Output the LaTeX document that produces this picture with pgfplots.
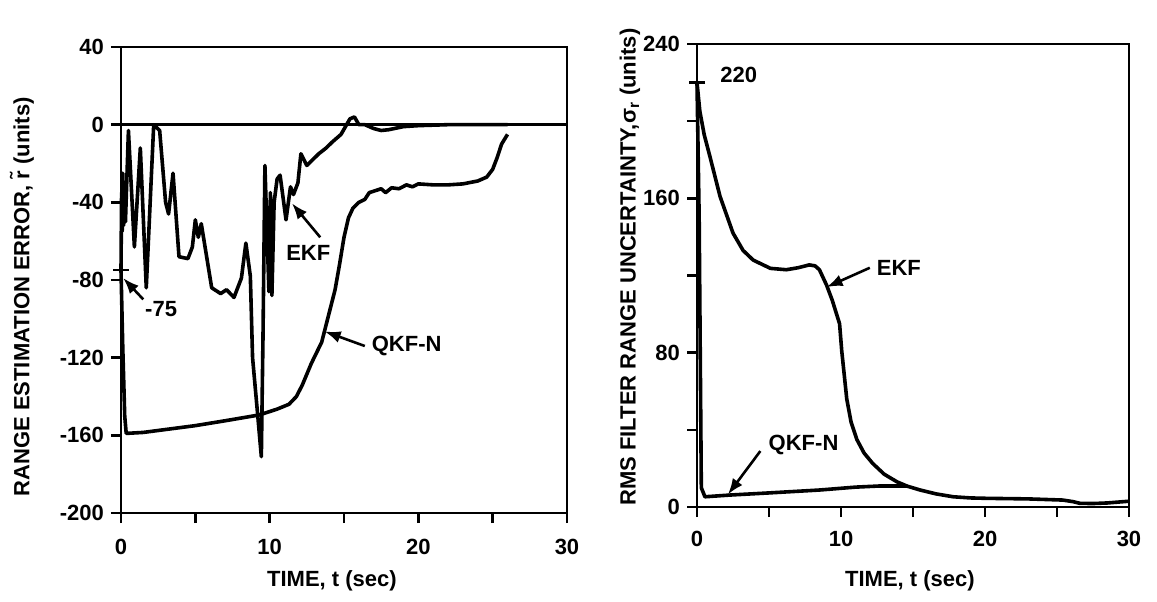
\documentclass[border=0pt]{standalone}
\usepackage{fontspec}
\setmainfont{Liberation Sans}
\usepackage{pgfplots}
\pgfplotsset{compat=1.18}
\usetikzlibrary{arrows.meta}

\pgfplotsset{
  filterpanel/.style={
    scale only axis,
    clip=false,
    axis line style={line width=1.2pt},
    every tick/.style={line width=1.2pt, black},
    tick align=outside,
    tick pos=left,
    major tick length=5pt,
    xmin=0, xmax=30,
    xtick={0,5,...,30},
    xticklabels={0,,10,,20,,30},
    /pgf/number format/assume math mode=true,
    tick label style={font=\fontsize{11}{13}\selectfont\bfseries},
    label style={font=\fontsize{11}{13}\selectfont\bfseries},
    xlabel={TIME, t (sec)},
  },
}
\tikzset{
  curve/.style={black, line width=1.8pt, line join=round},
  callout/.style={black, line width=1.3pt, -{Latex[length=8pt,width=6pt]}},
  note/.style={font=\fontsize{11}{13}\selectfont\bfseries},
}

\begin{document}
\begin{tikzpicture}
\useasboundingbox (0,0) rectangle (578.5pt,300.5pt);

% ---------------- range estimation error ----------------
\begin{axis}[filterpanel,
  at={(60.5pt,44pt)}, anchor=south west,
  width=223pt, height=233pt,
  ymin=-200, ymax=40,
  ytick={-200,-160,...,40},
  yticklabels={-200,-160,-120,-80,-40,0,40},
  xticklabel style={yshift=-4.5pt},
  ylabel={RANGE ESTIMATION ERROR, \~r (units)},
  ylabel style={at={(axis description cs:-0.222,0.464)}, anchor=center},
  xlabel style={at={(axis description cs:0.473,-0.145)}, anchor=center},
]
% zero reference line
\addplot[black, line width=1.2pt] coordinates {(0,0) (30,0)};

% EKF
\addplot[curve] coordinates {
(0,-75) (0.04,-35) (0.08,-55) (0.12,-25) (0.17,-52) (0.22,-30) (0.3,-50)
(0.5,-3) (0.9,-63) (1.3,-12) (1.7,-84) (2.2,0) (2.6,-3) (3.0,-40)
(3.2,-46) (3.5,-25) (3.9,-68) (4.5,-69) (4.8,-63) (5.0,-49) (5.2,-58)
(5.4,-51) (6.1,-84) (6.7,-87) (7.1,-85) (7.6,-89) (8.1,-79) (8.4,-61)
(8.7,-78) (8.85,-120) (9.2,-150) (9.44,-171) (9.55,-110) (9.68,-21)
(9.95,-86) (10.05,-35) (10.15,-88) (10.3,-40) (10.5,-28) (10.7,-26)
(11.1,-49) (11.4,-32) (11.6,-36) (11.9,-30) (12.1,-15) (12.5,-21)
(12.9,-18) (13.3,-15) (13.8,-12) (14.2,-9) (14.8,-5) (15.4,3) (15.7,4)
(16.0,0) (16.4,0) (17.0,-2) (17.5,-3) (18.0,-2.6) (19.0,-1) (20,-0.5)
(22,0) (24,0) (26,0)
};

% QKF-N
\addplot[curve] coordinates {
(0,-75) (0.12,-115) (0.25,-150) (0.35,-159) (1.5,-158.5) (3,-157)
(5,-155) (7,-152.5) (9.3,-149.5) (10.5,-146.5) (11.3,-144) (11.8,-140)
(12.2,-134) (12.8,-123) (13.5,-112) (14.0,-97) (14.4,-85) (14.7,-72)
(15.0,-58) (15.3,-48) (15.6,-43) (16.0,-40) (16.4,-38.5) (16.7,-35)
(17.1,-34) (17.5,-33) (17.8,-35) (18.2,-32.5) (18.7,-33) (19.2,-31)
(19.6,-32) (20.0,-30.5) (21,-31) (22,-31) (23,-30.5) (24,-29)
(24.6,-27) (25.0,-23) (25.3,-17) (25.6,-10) (26.0,-5)
};

% initial error marker
\addplot[black, only marks, mark=-, mark size=4pt, mark options={line width=1.2pt}]
  coordinates {(0,-75)};

\draw[callout] (axis cs:1.5,-90) -- (axis cs:0.15,-79);
\node[note] at (axis cs:2.7,-95) {-75};
\draw[callout] (axis cs:13.4,-58) -- (axis cs:11.5,-40.5);
\node[note] at (axis cs:12.6,-66) {EKF};
\draw[callout] (axis cs:16.4,-114) -- (axis cs:13.7,-106.5);
\node[note, anchor=west] at (axis cs:16.4,-114) {QKF-N};
\end{axis}

% ---------------- rms filter range uncertainty ----------------
\begin{axis}[filterpanel,
  at={(348.5pt,47pt)}, anchor=south west,
  width=216pt, height=231.5pt,
  ymin=0, ymax=240,
  ytick={0,40,...,240},
  yticklabels={0,,80,,160,,240},
  xticklabel style={yshift=-3.5pt},
  ylabel={RMS FILTER RANGE UNCERTAINTY,σ\textsubscript{r} (units)},
  ylabel style={at={(axis description cs:-0.155,0.518)}, anchor=center},
  xlabel style={at={(axis description cs:0.493,-0.16)}, anchor=center},
]
% EKF
\addplot[curve] coordinates {
(0,220) (0.2,205) (0.5,193) (0.9,181.6) (1.6,161) (2.5,142) (3.2,133)
(3.9,128) (5.1,123.7) (6.2,123) (7.0,124) (7.8,125.5) (8.2,125)
(8.5,123) (9.0,115) (9.4,107) (9.9,95) (10.05,81) (10.4,56) (10.7,44)
(11.1,35) (11.6,28) (12.2,22.6) (13.0,17) (13.9,13) (14.6,10.8)
(15.5,8.8) (16.6,6.8) (17.8,5.3) (19,4.7) (20.1,4.5) (23,4.2) (25.4,3.6)
(26.1,2.8) (26.6,1.9) (27.5,1.8) (28.5,2.1) (30,3)
};

% QKF-N
\addplot[curve] coordinates {
(0,220) (0.15,150) (0.3,10) (0.55,5.3) (2.3,6.2) (5,7.3) (8.5,8.8)
(11,10.3) (12.7,10.9) (14.1,10.9) (14.6,10.8)
};

% initial uncertainty marker
\addplot[black, only marks, mark=-, mark size=4pt, mark options={line width=1.2pt}]
  coordinates {(0,220)};

\node[note] at (axis cs:2.9,224) {220};
\draw[callout] (axis cs:12.0,124) -- (axis cs:9.0,114);
\node[note, anchor=west] at (axis cs:12.0,124) {EKF};
\draw[callout] (axis cs:4.4,29) -- (axis cs:2.15,6.5);
\node[note] at (axis cs:7.4,32) {QKF-N};
\end{axis}
\end{tikzpicture}
\end{document}
